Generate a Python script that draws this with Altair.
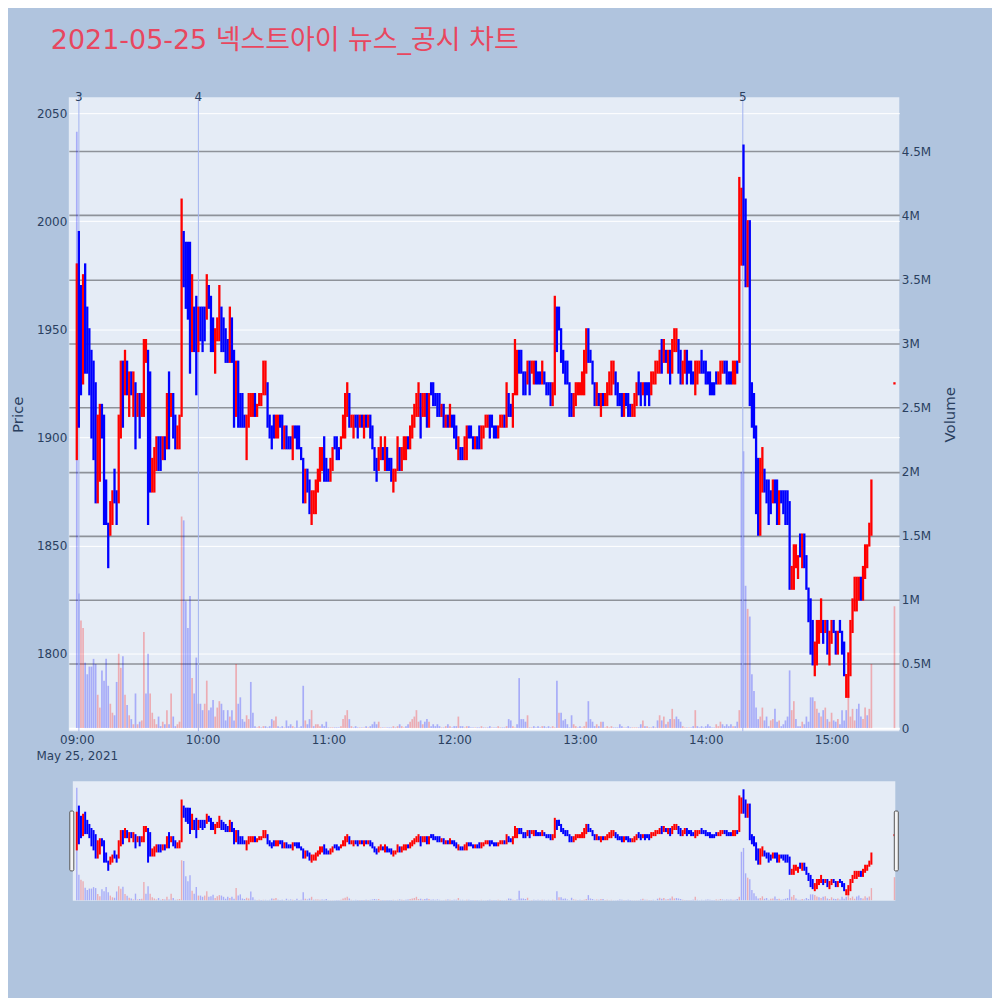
import altair as alt
import pandas as pd
import numpy as np

TITLE = "2021-05-25 넥스트아이 뉴스_공시 차트"

# ---- one-minute candles, (open, close) ----
candles_0900 = [
    (1890, 1980), (1995, 1905), (1970, 1920), (1925, 1975), (1980, 1930), (1960, 1930), (1950, 1920), (1940, 1900), (1935, 1890), (1925, 1870),
    (1870, 1910), (1880, 1915), (1915, 1900), (1910, 1860), (1880, 1860), (1860, 1840), (1855, 1870), (1860, 1875), (1885, 1870), (1875, 1860),
    (1870, 1910), (1900, 1935), (1935, 1905), (1920, 1940), (1935, 1920), (1910, 1930), (1930, 1920), (1910, 1930), (1925, 1895), (1910, 1920),
    (1920, 1900), (1910, 1920), (1910, 1945), (1935, 1945), (1940, 1860), (1930, 1875), (1875, 1890), (1875, 1895), (1885, 1900), (1900, 1885),
    (1900, 1885), (1890, 1900), (1900, 1890), (1895, 1920), (1930, 1895), (1910, 1920), (1920, 1900), (1910, 1895), (1895, 1905), (1895, 1910),
    (1910, 2010), (1995, 1970), (1990, 1960), (1990, 1955), (1990, 1930), (1940, 1975), (1960, 1940), (1965, 1920), (1940, 1960), (1960, 1945),
    (1960, 1940), (1960, 1945),
]
candles_1002 = [
    (1955, 1975), (1970, 1960), (1965, 1940), (1955, 1940), (1930, 1950), (1945, 1955), (1945, 1970), (1960, 1940), (1955, 1940), (1950, 1935),
    (1945, 1935), (1935, 1960), (1955, 1935), (1940, 1905), (1910, 1935), (1935, 1905), (1920, 1905), (1920, 1905), (1910, 1905), (1890, 1910),
    (1905, 1920), (1910, 1920), (1910, 1920), (1920, 1910), (1910, 1915), (1915, 1920), (1915, 1920), (1920, 1935), (1920, 1935), (1925, 1905),
    (1910, 1900), (1905, 1895), (1910, 1900), (1900, 1910), (1900, 1910), (1910, 1905), (1910, 1895), (1895, 1905), (1905, 1895), (1900, 1895),
    (1900, 1895), (1890, 1905), (1905, 1900), (1905, 1895), (1905, 1895), (1895, 1890), (1890, 1870), (1870, 1885), (1885, 1875), (1880, 1865),
    (1860, 1875), (1865, 1875), (1865, 1880), (1875, 1885), (1880, 1895), (1885, 1895), (1900, 1880), (1890, 1880), (1885, 1880), (1880, 1890),
    (1885, 1895), (1900, 1895), (1900, 1890),
]
candles_1105 = [
    (1895, 1890), (1895, 1900), (1900, 1910), (1900, 1920), (1910, 1925), (1920, 1905), (1905, 1910), (1900, 1910), (1910, 1905), (1910, 1900),
    (1905, 1910), (1910, 1905), (1900, 1910), (1910, 1905), (1905, 1910), (1910, 1900), (1905, 1895), (1895, 1885), (1890, 1880), (1885, 1895),
    (1890, 1900), (1895, 1890), (1885, 1900), (1895, 1885), (1890, 1885), (1890, 1880), (1875, 1885), (1880, 1885), (1885, 1900), (1895, 1885),
    (1885, 1895), (1890, 1900), (1890, 1900), (1900, 1895), (1895, 1905), (1900, 1910), (1905, 1915), (1910, 1920), (1910, 1925), (1920, 1900),
    (1910, 1920), (1910, 1920), (1920, 1905), (1905, 1920), (1925, 1920), (1925, 1915), (1920, 1915), (1920, 1910), (1920, 1910), (1910, 1915),
    (1915, 1905), (1905, 1910), (1910, 1905), (1905, 1915), (1910, 1905), (1910, 1900), (1905, 1895), (1890, 1900), (1895, 1890), (1895, 1890),
    (1890, 1900), (1890, 1905), (1905, 1900),
]
candles_1208 = [
    (1905, 1900), (1900, 1895), (1895, 1900), (1900, 1895), (1905, 1895), (1895, 1905), (1900, 1905), (1905, 1910), (1905, 1910), (1910, 1900),
    (1910, 1905), (1905, 1900), (1905, 1900), (1900, 1905), (1905, 1910), (1905, 1910), (1910, 1905), (1905, 1925), (1920, 1910), (1915, 1910),
    (1905, 1920), (1920, 1945), (1920, 1940), (1940, 1930), (1940, 1930), (1930, 1920), (1930, 1920), (1925, 1935), (1935, 1920), (1930, 1935),
    (1925, 1935), (1935, 1925), (1930, 1925), (1930, 1925), (1925, 1935), (1930, 1925), (1925, 1920), (1925, 1920), (1925, 1915), (1915, 1925),
    (1920, 1965), (1960, 1940), (1960, 1950), (1950, 1935), (1940, 1930), (1935, 1925), (1935, 1925), (1925, 1910), (1920, 1910), (1910, 1920),
    (1915, 1925), (1920, 1925), (1920, 1925), (1920, 1930), (1920, 1940), (1930, 1950), (1950, 1935), (1940, 1935), (1935, 1925), (1925, 1915),
    (1915, 1925), (1920, 1915), (1910, 1920),
]
candles_1311 = [
    (1920, 1915), (1915, 1920), (1915, 1925), (1920, 1930), (1920, 1935), (1925, 1935), (1930, 1920), (1925, 1915), (1920, 1915), (1920, 1910),
    (1910, 1920), (1920, 1915), (1920, 1910), (1915, 1910), (1910, 1915), (1910, 1920), (1915, 1925), (1930, 1920), (1925, 1915), (1920, 1925),
    (1925, 1915), (1925, 1920), (1925, 1915), (1920, 1930), (1925, 1930), (1925, 1935), (1930, 1935), (1930, 1940), (1945, 1930), (1935, 1945),
    (1940, 1935), (1930, 1940), (1940, 1925), (1930, 1945), (1940, 1950), (1940, 1950), (1945, 1930), (1940, 1925), (1925, 1935), (1930, 1940),
    (1940, 1925), (1935, 1930), (1935, 1925), (1930, 1925), (1920, 1935), (1925, 1935), (1930, 1935), (1940, 1930), (1935, 1930), (1935, 1925),
    (1930, 1925), (1930, 1920), (1925, 1920), (1925, 1920), (1930, 1925), (1925, 1930), (1925, 1935), (1930, 1935), (1935, 1930), (1935, 1925),
    (1930, 1925), (1930, 1925), (1925, 1935), (1925, 1935),
]
candles_1415 = [
    (1935, 1930), (1935, 2020), (1980, 2015), (2035, 1980), (2010, 1970), (1970, 2000), (2000, 1915), (1925, 1905), (1920, 1900), (1905, 1865),
    (1890, 1855), (1855, 1890), (1875, 1895), (1885, 1875), (1880, 1870), (1880, 1860), (1875, 1865), (1870, 1880), (1880, 1870), (1880, 1860),
    (1860, 1875), (1875, 1870), (1875, 1865), (1875, 1860), (1875, 1860), (1870, 1830), (1830, 1840), (1830, 1850), (1840, 1850), (1835, 1845),
    (1855, 1845), (1840, 1855), (1855, 1840), (1845, 1830), (1830, 1815), (1825, 1800), (1815, 1795), (1790, 1805), (1795, 1815), (1805, 1815),
    (1810, 1825), (1815, 1805), (1810, 1815), (1815, 1800), (1795, 1810), (1805, 1815), (1815, 1810), (1810, 1800), (1800, 1810), (1815, 1810),
    (1810, 1800), (1805, 1790), (1780, 1790), (1780, 1800), (1790, 1815), (1810, 1825), (1820, 1835), (1820, 1835), (1825, 1835), (1835, 1825),
    (1825, 1840), (1835, 1850), (1840, 1850), (1850, 1860), (1855, 1880),
]
auction_1530 = (1925, 1925)

# ---- volume per minute, millions of shares ----
volume_0900 = [
    4.65, 1.05, 0.84, 0.78, 0.51, 0.42, 0.48, 0.48, 0.54, 0.50,
    0.26, 0.16, 0.45, 0.37, 0.54, 0.33, 0.19, 0.12, 0.10, 0.36,
    0.58, 0.47, 0.56, 0.26, 0.18, 0.10, 0.07, 0.03, 0.27, 0.03,
    0.05, 0.06, 0.75, 0.27, 0.58, 0.27, 0.12, 0.07, 0.03, 0.09,
    0.015, 0.05, 0.03, 0.14, 0.03, 0.27, 0.09, 0.015, 0.03, 0.05,
    1.65, 1.62, 0.99, 0.78, 1.03, 0.39, 0.27, 0.55, 0.19, 0.19,
    0.14, 0.19,
]
volume_1002 = [
    0.37, 0.14, 0.16, 0.22, 0.09, 0.16, 0.21, 0.19, 0.14, 0.06,
    0.14, 0.09, 0.14, 0.06, 0.50, 0.19, 0.24, 0.07, 0.05, 0.10,
    0.07, 0.36, 0.12, 0.015, 0.005, 0.015, 0.005, 0.015, 0.015, 0.005,
    0.015, 0.07, 0.06, 0.09, 0.015, 0.005, 0.015, 0.005, 0.06, 0.015,
    0.03, 0.015, 0.005, 0.06, 0.005, 0.015, 0.33, 0.06, 0.03, 0.07,
    0.14, 0.015, 0.03, 0.03, 0.015, 0.03, 0.015, 0.05, 0.005, 0.005,
    0.005, 0.005, 0.005,
]
volume_1105 = [
    0.005, 0.015, 0.07, 0.10, 0.14, 0.07, 0.015, 0.005, 0.015, 0.005,
    0.005, 0.005, 0.005, 0.015, 0.005, 0.015, 0.03, 0.05, 0.03, 0.05,
    0.005, 0.005, 0.005, 0.005, 0.005, 0.005, 0.015, 0.005, 0.015, 0.03,
    0.015, 0.005, 0.015, 0.03, 0.05, 0.07, 0.09, 0.14, 0.05, 0.06,
    0.03, 0.05, 0.07, 0.05, 0.015, 0.03, 0.015, 0.03, 0.015, 0.005,
    0.005, 0.015, 0.03, 0.015, 0.005, 0.015, 0.015, 0.09, 0.015, 0.015,
    0.005, 0.015, 0.015,
]
volume_1208 = [
    0.005, 0.005, 0.005, 0.005, 0.005, 0.015, 0.005, 0.005, 0.005, 0.015,
    0.005, 0.005, 0.005, 0.015, 0.005, 0.005, 0.005, 0.015, 0.07, 0.06,
    0.015, 0.005, 0.03, 0.39, 0.07, 0.07, 0.05, 0.10, 0.005, 0.005,
    0.015, 0.005, 0.015, 0.005, 0.015, 0.015, 0.005, 0.015, 0.005, 0.015,
    0.005, 0.37, 0.12, 0.12, 0.06, 0.07, 0.03, 0.005, 0.10, 0.03,
    0.015, 0.005, 0.015, 0.005, 0.015, 0.05, 0.21, 0.07, 0.05, 0.015,
    0.03, 0.015, 0.05,
]
volume_1311 = [
    0.05, 0.005, 0.015, 0.005, 0.015, 0.005, 0.005, 0.005, 0.03, 0.015,
    0.005, 0.005, 0.015, 0.005, 0.005, 0.005, 0.005, 0.005, 0.03, 0.06,
    0.015, 0.015, 0.005, 0.005, 0.015, 0.005, 0.06, 0.10, 0.06, 0.09,
    0.03, 0.05, 0.07, 0.15, 0.07, 0.09, 0.07, 0.05, 0.015, 0.005,
    0.005, 0.005, 0.005, 0.015, 0.14, 0.015, 0.005, 0.015, 0.005, 0.015,
    0.03, 0.015, 0.005, 0.005, 0.03, 0.015, 0.05, 0.03, 0.015, 0.03,
    0.015, 0.03, 0.015, 0.015,
]
volume_1415 = [
    0.05, 0.14, 2.00, 2.16, 1.11, 0.93, 0.87, 0.42, 0.29, 0.16,
    0.07, 0.09, 0.16, 0.06, 0.09, 0.015, 0.06, 0.07, 0.15, 0.05,
    0.06, 0.015, 0.03, 0.06, 0.09, 0.45, 0.14, 0.21, 0.07, 0.015,
    0.015, 0.05, 0.03, 0.09, 0.05, 0.24, 0.24, 0.21, 0.15, 0.12,
    0.09, 0.14, 0.16, 0.07, 0.05, 0.12, 0.06, 0.05, 0.07, 0.03,
    0.14, 0.06, 0.14, 0.26, 0.09, 0.15, 0.06, 0.15, 0.19, 0.09,
    0.07, 0.16, 0.10, 0.15, 0.50,
]
volume_1530 = 0.95

news_times = ["2021-05-25T09:01:00", "2021-05-25T09:58:00", "2021-05-25T14:17:40"]
news_labels = ["3", "4", "5"]

price_ticks = [1800, 1850, 1900, 1950, 2000, 2050]
volume_ticks = [0, 0.5, 1, 1.5, 2, 2.5, 3, 3.5, 4, 4.5]
hour_ticks = [9, 10, 11, 12, 13, 14, 15]

# ---- table ----
candles = (candles_0900 + candles_1002 + candles_1105 + candles_1208
           + candles_1311 + candles_1415 + [auction_1530])
volumes = (volume_0900 + volume_1002 + volume_1105 + volume_1208
           + volume_1311 + volume_1415 + [volume_1530])
minutes = list(pd.date_range("2021-05-25 09:00", periods=len(candles) - 1, freq="min"))
minutes.append(pd.Timestamp("2021-05-25 15:30"))

df = pd.DataFrame({
    "t": [m.strftime("%Y-%m-%dT%H:%M:%S") for m in minutes],
    "open": [c[0] for c in candles],
    "close": [c[1] for c in candles],
    "vol": volumes,
})
df["dir"] = np.where(df["close"] >= df["open"], "up", "down")
prev_close = df["close"].shift(1)
df["vdir"] = np.where(df["close"] > prev_close, "up", "down")

news = pd.DataFrame({"t": news_times, "label": news_labels})

# ---- style ----
FONT = "DejaVu Sans"
TXT = "#2a3f5f"
PAGE_BG = "#b0c4de"
PLOT_BG = "#e5ecf6"
UP, DOWN = "#ff0000", "#0000ff"
W, H, HS = 833, 636, 120


def dt(h, m=0, s=0):
    return alt.DateTime(year=2021, month=5, date=25, hours=h, minutes=m, seconds=s)


xscale = alt.Scale(domain=[dt(8, 56, 12), dt(15, 32, 18)])
xaxis = alt.Axis(
    values=[dt(h) for h in hour_ticks],
    labelExpr="hours(datum.value) == 9 ? [timeFormat(datum.value, '%H:%M'), 'May 25, 2021'] : timeFormat(datum.value, '%H:%M')",
    title=None, grid=False, ticks=False, domain=False,
    labelPadding=3, labelLineHeight=16, labelFontSize=12, labelColor=TXT,
    labelFont=FONT, labelOverlap=False, labelFlush=False,
)
cscale = alt.Scale(domain=["up", "down"], range=[UP, DOWN])
price_scale = alt.Scale(domain=[1764, 2057.4], nice=False, zero=False)
vol_scale = alt.Scale(domain=[-0.025, 4.92], nice=False, zero=False)

vol_main = alt.Chart(df).mark_rule(strokeWidth=1.7, opacity=0.27).encode(
    x=alt.X("t:T", scale=xscale, axis=xaxis),
    y=alt.Y("vol:Q", scale=vol_scale, axis=alt.Axis(
        orient="right", values=volume_ticks,
        labelExpr="datum.value == 0 ? '0' : datum.value + 'M'",
        title="Volume", titleFont=FONT, titleFontSize=15, titleFontWeight="normal",
        titleColor=TXT, titlePadding=27, titleAngle=270,
        grid=True,
        gridColor={"condition": {"test": "datum.value === 0", "value": "#ffffff"}, "value": "#8e9299"},
        gridWidth={"condition": {"test": "datum.value === 0", "value": 2}, "value": 1.6},
        ticks=False, domain=False, labelPadding=2,
        labelFont=FONT, labelFontSize=12, labelColor=TXT,
    )),
    y2=alt.datum(0),
    color=alt.Color("vdir:N", scale=cscale, legend=None),
)

news_rule = alt.Chart(news).mark_rule(color="#a3b3f0", strokeWidth=1).encode(
    x=alt.X("t:T", scale=xscale, axis=xaxis),
)

price_main = alt.Chart(df).mark_rule(strokeWidth=2.3, strokeCap="square").encode(
    x=alt.X("t:T", scale=xscale, axis=xaxis),
    y=alt.Y("open:Q", scale=price_scale, axis=alt.Axis(
        orient="left", values=price_ticks, format="d", title="Price",
        titleFont=FONT, titleFontSize=15, titleFontWeight="normal", titleColor=TXT,
        titlePadding=11,
        grid=True, gridColor="#ffffff", gridWidth=1, ticks=False, domain=False,
        labelPadding=2, labelFont=FONT, labelFontSize=12, labelColor=TXT,
    )),
    y2="close:Q",
    color=alt.Color("dir:N", scale=cscale, legend=None),
)

news_text = alt.Chart(news).mark_text(
    baseline="middle", align="center", fontSize=12, font=FONT, color=TXT
).encode(
    x=alt.X("t:T", scale=xscale, axis=xaxis),
    y=alt.value(0),
    text="label:N",
)

main = alt.layer(vol_main, news_rule, price_main, news_text).resolve_scale(
    y="independent"
).properties(
    width=W, height=H,
    title=alt.TitleParams(
        text=TITLE, anchor="start", frame="group", dx=-18, fontSize=27,
        font=FONT + ", Noto Sans CJK KR",
        color="#e8475f", fontWeight="normal", offset=36,
    ),
)

# ---- range slider ----
one = pd.DataFrame({"k": [0]})
slider_bg = alt.Chart(one).mark_rect(color=PLOT_BG).encode(
    x=alt.value(4), x2=alt.value(W - 4), y=alt.value(0), y2=alt.value(HS)
)
vol_slider = alt.Chart(df).mark_rule(strokeWidth=1.4, opacity=0.27).encode(
    x=alt.X("t:T", scale=xscale, axis=None),
    y=alt.Y("vol:Q", scale=vol_scale, axis=None),
    y2=alt.datum(0),
    color=alt.Color("vdir:N", scale=cscale, legend=None),
)
price_slider = alt.Chart(df).mark_rule(strokeWidth=2, strokeCap="square").encode(
    x=alt.X("t:T", scale=xscale, axis=None),
    y=alt.Y("open:Q", scale=price_scale, axis=None),
    y2="close:Q",
    color=alt.Color("dir:N", scale=cscale, legend=None),
)
handle_l = alt.Chart(one).mark_rect(fill="#f4f4f4", stroke="#555555", strokeWidth=1, cornerRadius=1).encode(
    x=alt.value(1), x2=alt.value(5), y=alt.value(30), y2=alt.value(90)
)
handle_r = alt.Chart(one).mark_rect(fill="#f4f4f4", stroke="#555555", strokeWidth=1, cornerRadius=1).encode(
    x=alt.value(W - 5), x2=alt.value(W - 1), y=alt.value(30), y2=alt.value(90)
)
slider = alt.layer(slider_bg, vol_slider, price_slider, handle_l, handle_r).resolve_scale(
    y="independent"
).properties(width=W, height=HS, view=alt.ViewBackground(fill="transparent", strokeWidth=0))

chart = alt.vconcat(main, slider, spacing=20).configure(
    background=PAGE_BG,
    padding={"left": 2, "top": 18, "right": 34, "bottom": 95},
).configure_view(fill=PLOT_BG, strokeWidth=0)

chart.save("out.html", embed_options={"renderer": "svg", "actions": False})
